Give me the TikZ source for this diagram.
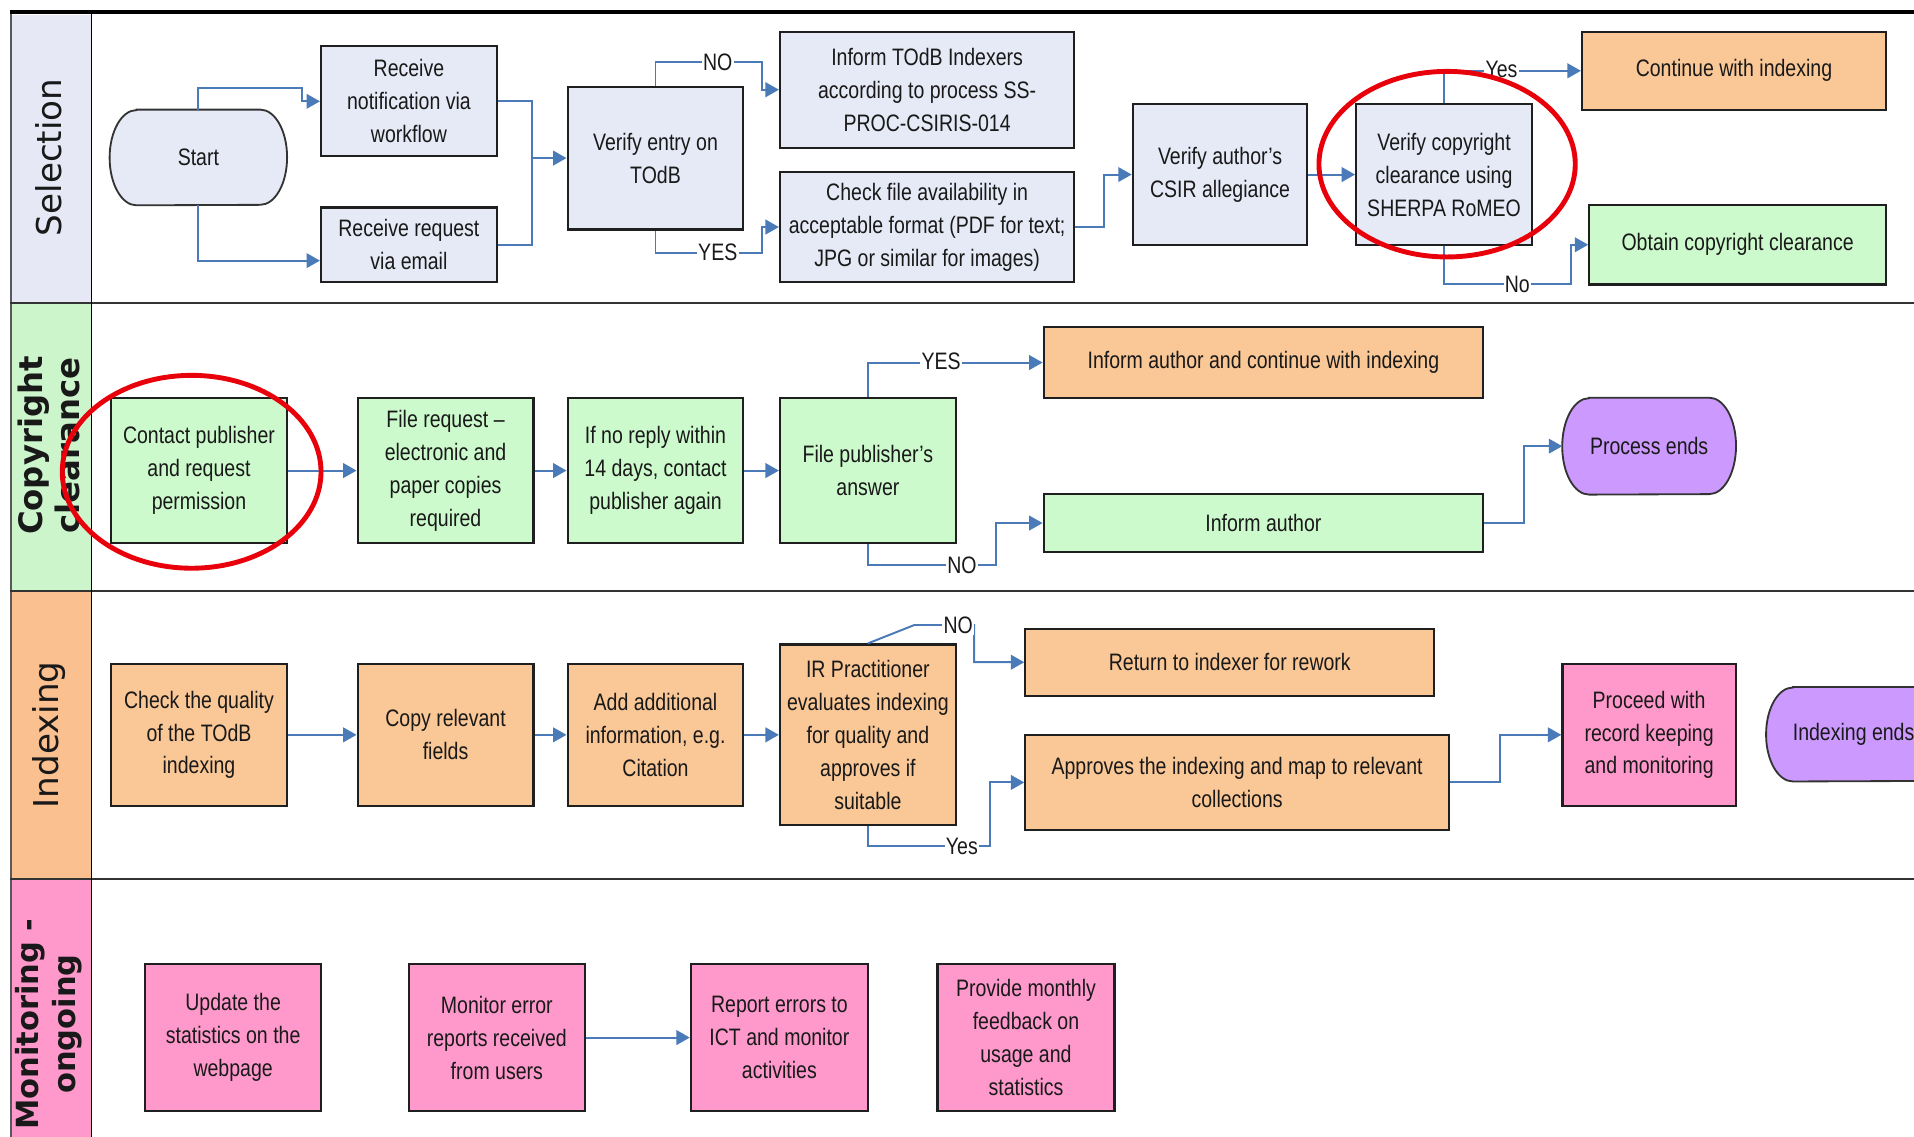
\documentclass[tikz,border=0pt]{standalone}
\usepackage{fontspec}
\setmainfont{Liberation Sans}[FakeStretch=0.82]
\newfontfamily\hdrfont{DejaVu Sans}
\usetikzlibrary{arrows.meta,backgrounds,calc}
\definecolor{selc}{RGB}{230,234,246}
\definecolor{grnc}{RGB}{204,250,204}
\definecolor{orgc}{RGB}{250,199,150}
\definecolor{pnkc}{RGB}{255,153,204}
\definecolor{prpc}{RGB}{204,153,255}
\definecolor{arrc}{RGB}{74,122,184}
\definecolor{hsel}{RGB}{230,233,245}
\definecolor{hgrn}{RGB}{204,245,204}
\definecolor{horg}{RGB}{250,192,144}
\definecolor{hpnk}{RGB}{255,153,204}
\definecolor{ovalred}{RGB}{232,0,10}
\newcommand{\bxfont}{\fontsize{19.5}{27}\selectfont}
\newcommand{\hdfont}{\hdrfont\fontsize{28}{31}\selectfont}
\newcommand{\hdbfont}{\hdrfont\bfseries\fontsize{26.5}{30}\selectfont}
\newcommand{\hdmfont}{\hdrfont\bfseries\fontsize{25}{30}\selectfont}
\begin{document}
\begin{tikzpicture}[x=1pt,y=-1pt,
  box/.style={draw=black!88, line width=1.8pt, align=center, inner sep=2pt, font=\bxfont, text=black!90},
  selbox/.style={box, fill=selc},
  grnbox/.style={box, fill=grnc},
  orgbox/.style={box, fill=orgc},
  pnkbox/.style={box, fill=pnkc},
  stadnode/.style={align=center, inner sep=2pt, font=\bxfont, text=black!90},
  stadline/.style={draw=black!80, line width=1.5pt},
  conn/.style={draw=arrc, line width=1.6pt},
  arr/.style={conn, -{Triangle[length=11pt,width=12pt]}},
  lbl/.style={fill=white, inner sep=1pt, font=\bxfont, text=black!90},
  hdr/.style={rotate=90, align=center, font=\hdfont, inner sep=0pt, text=black!90},
  hdrb/.style={rotate=90, align=center, font=\hdbfont, inner sep=0pt, text=black!90},
  hdrm/.style={rotate=90, align=center, font=\hdmfont, inner sep=0pt, text=black!90},
  oval/.style={draw=ovalred, line width=4pt},
]
\useasboundingbox (0,0) rectangle (1568,931);
\clip (0,0) rectangle (1568,931);

% lanes
\fill[hsel] (8,12) rectangle (75,248);
\fill[hgrn] (8,248) rectangle (75,484);
\fill[horg] (8,484) rectangle (75,720);
\fill[hpnk] (8,720) rectangle (75,935);
\draw[line width=1pt, black!65] (9,10) -- (9,935);
\draw[line width=3.5pt] (8,10) -- (1570,10);
\draw[line width=2pt, black!80] (8,248) -- (1570,248);
\draw[line width=2pt, black!80] (8,484) -- (1570,484);
\draw[line width=2pt, black!80] (8,720) -- (1570,720);
\draw[line width=1.5pt] (75,10) -- (75,935);

\node[hdr] (hSel) at (40,129) {Selection};
\node[hdrb] (hCop) at (40,365) {Copyright\\clearance};
\node[hdr] (hIdx) at (40,602) {Indexing};
\node[hdrm] (hMon) at (40,839) {Monitoring -\\ongoing};

% ---------- Selection ----------
\node[stadnode, minimum width=145pt, minimum height=78pt] (start) at (162.5,129) {Start};
\node[selbox, minimum width=144pt, minimum height=90pt] (notif) at (335,83) {Receive\\notification via\\workflow};
\node[selbox, minimum width=144pt, minimum height=61pt] (email) at (335,200.5) {Receive request\\via email};
\node[selbox, minimum width=144pt, minimum height=117pt] (verify) at (537,129.5) {Verify entry on\\TOdB};
\node[selbox, minimum width=241pt, minimum height=95pt] (inform) at (759.5,73.5) {Inform TOdB Indexers\\according to process SS-\\PROC-CSIRIS-014};
\node[selbox, minimum width=241pt, minimum height=90pt] (check) at (759.5,186) {Check file availability in\\acceptable format (PDF for text;\\JPG or similar for images)};
\node[selbox, minimum width=143pt, minimum height=116pt] (author) at (999.5,143) {Verify author's\\CSIR allegiance};
\node[selbox, minimum width=144pt, minimum height=116pt] (copyr) at (1183,143) {Verify copyright\\clearance using\\SHERPA RoMEO};
\node[orgbox, minimum width=249pt, minimum height=64pt] (cont) at (1420.5,58) {Continue with indexing};
\node[grnbox, minimum width=243pt, minimum height=65pt] (obtain) at (1423.5,200.5) {Obtain copyright clearance};

% ---------- Copyright clearance ----------
\node[grnbox, minimum width=144pt, minimum height=119pt] (contact) at (163,385.5) {Contact publisher\\and request\\permission};
\node[grnbox, minimum width=144pt, minimum height=119pt] (filereq) at (365,385.5) {File request --\\electronic and\\paper copies\\required};
\node[grnbox, minimum width=144pt, minimum height=119pt] (noreply) at (537,385.5) {If no reply within\\14 days, contact\\publisher again};
\node[grnbox, minimum width=144pt, minimum height=119pt] (answer) at (711,385.5) {File publisher's\\answer};
\node[orgbox, minimum width=360pt, minimum height=58pt] (infcont) at (1035,297) {Inform author and continue with indexing};
\node[grnbox, minimum width=360pt, minimum height=47pt] (infauth) at (1035,428.5) {Inform author};
\node[stadnode, minimum width=142pt, minimum height=79pt] (pend) at (1351,365.5) {Process ends};

% ---------- Indexing ----------
\node[orgbox, minimum width=144pt, minimum height=116pt] (quality) at (163,602) {Check the quality\\of the TOdB\\indexing};
\node[orgbox, minimum width=144pt, minimum height=116pt] (copyf) at (365,602) {Copy relevant\\fields};
\node[orgbox, minimum width=144pt, minimum height=116pt] (addinfo) at (537,602) {Add additional\\information, e.g.\\Citation};
\node[orgbox, minimum width=144pt, minimum height=148pt] (irp) at (711,602) {IR Practitioner\\evaluates indexing\\for quality and\\approves if\\suitable};
\node[orgbox, minimum width=335pt, minimum height=55pt] (ret) at (1007.5,542.5) {Return to indexer for rework};
\node[orgbox, minimum width=347pt, minimum height=78pt] (appr) at (1013.5,641) {Approves the indexing and map to relevant\\collections};
\node[pnkbox, minimum width=142pt, minimum height=116pt] (proceed) at (1351,602) {Proceed with\\record keeping\\and monitoring};
\node[stadnode, minimum width=143pt, minimum height=77pt] (iends) at (1518.5,601.5) {Indexing ends};

% ---------- Monitoring ----------
\node[pnkbox, minimum width=144pt, minimum height=120pt] (update) at (191,850) {Update the\\statistics on the\\webpage};
\node[pnkbox, minimum width=144pt, minimum height=120pt] (monerr) at (407,850) {Monitor error\\reports received\\from users};
\node[pnkbox, minimum width=145pt, minimum height=120pt] (report) at (638.5,850) {Report errors to\\ICT and monitor\\activities};
\node[pnkbox, minimum width=145pt, minimum height=120pt] (provide) at (840.5,850) {Provide monthly\\feedback on\\usage and\\statistics};

% stadium outlines behind their texts
\begin{scope}[on background layer]
\draw[stadline, fill=selc] ([xshift=22pt]start.north west) -- ([xshift=-22pt]start.north east)
  arc[start angle=90,end angle=-90,x radius=22pt,y radius=39pt] -- ([xshift=22pt]start.south west)
  arc[start angle=270,end angle=90,x radius=22pt,y radius=39pt] -- cycle;
\draw[stadline, fill=prpc] ([xshift=22pt]pend.north west) -- ([xshift=-22pt]pend.north east)
  arc[start angle=90,end angle=-90,x radius=22pt,y radius=39.5pt] -- ([xshift=22pt]pend.south west)
  arc[start angle=270,end angle=90,x radius=22pt,y radius=39.5pt] -- cycle;
\draw[stadline, fill=prpc] ([xshift=22pt]iends.north west) -- ([xshift=-22pt]iends.north east)
  arc[start angle=90,end angle=-90,x radius=22pt,y radius=38.5pt] -- ([xshift=22pt]iends.south west)
  arc[start angle=270,end angle=90,x radius=22pt,y radius=38.5pt] -- cycle;
\end{scope}

% ---------- connectors: Selection ----------
\draw[arr] (start.north) |- ([xshift=-15pt,yshift=11pt]notif.west) |- (notif.west);
\draw[arr] (start.south) |- ([yshift=-13pt]email.west);
\coordinate (j1) at (436,129.5);
\draw[conn] (notif.east) -| (j1);
\draw[conn] (email.east) -| (j1);
\draw[arr] (j1) -- (verify.west);
\draw[arr] (verify.north) |- ([xshift=-14pt,yshift=22.5pt]inform.west) |- (inform.west);
\draw[arr] (verify.south) |- ([xshift=-14pt,yshift=-21pt]check.west) |- (check.west);
\draw[arr] (check.east) -| ([xshift=-23pt]author.west) -- (author.west);
\draw[arr] (author.east) -- (copyr.west);
\draw[arr] (copyr.north) |- (cont.west);
\draw[arr] (copyr.south) |- ([xshift=-14pt,yshift=-32.5pt]obtain.west) |- (obtain.west);

% ---------- connectors: Copyright ----------
\draw[arr] (contact.east) -- (filereq.west);
\draw[arr] (filereq.east) -- (noreply.west);
\draw[arr] (noreply.east) -- (answer.west);
\draw[arr] (answer.north) |- (infcont.west);
\draw[arr] (answer.south) |- ([xshift=-38pt,yshift=-34.5pt]infauth.west) |- (infauth.west);
\draw[arr] (infauth.east) -| ([xshift=-31pt]pend.west) -- (pend.west);

% ---------- connectors: Indexing ----------
\draw[arr] (quality.east) -- (copyf.west);
\draw[arr] (copyf.east) -- (addinfo.west);
\draw[arr] (addinfo.east) -- (irp.west);
\draw[arr] (irp.north) -- ([xshift=-90pt,yshift=30.5pt]ret.west) -- ([xshift=-41pt,yshift=30.5pt]ret.west) |- (ret.west);
\draw[arr] (irp.south) |- ([xshift=-28pt,yshift=-52pt]appr.west) |- (appr.west);
\draw[arr] (appr.east) -| ([xshift=-50pt]proceed.west) -- (proceed.west);

% ---------- connectors: Monitoring ----------
\draw[arr] (monerr.east) -- (report.west);

% ---------- connector labels ----------
\node[lbl] (l1) at (588,51) {NO};
\node[lbl] (l2) at (588,207) {YES};
\node[lbl] (l3) at (1230,57) {Yes};
\node[lbl] (l4) at (1243,233) {No};
\node[lbl] (l5) at (771,296) {YES};
\node[lbl] (l6) at (788,463) {NO};
\node[lbl] (l7) at (785,512) {NO};
\node[lbl] (l8) at (788,693) {Yes};

% ---------- red highlight ovals ----------
\draw[oval] (1185.5,134.5) ellipse [x radius=105pt, y radius=76pt];
\draw[oval] (157,386.5) ellipse [x radius=106pt, y radius=79pt];
\end{tikzpicture}
\end{document}
